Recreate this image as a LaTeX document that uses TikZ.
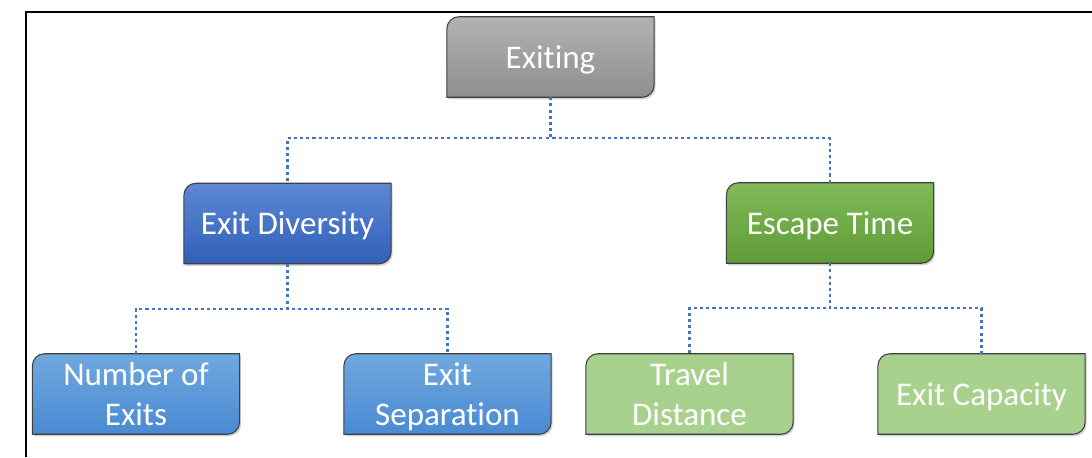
\documentclass[tikz,border=0pt]{standalone}
\usepackage{fontspec}
\setmainfont[Ligatures={NoCommon}]{Carlito}
\usetikzlibrary{backgrounds,shadows}

\definecolor{edgegray}{HTML}{3F3F3F}
\definecolor{linkblue}{HTML}{4472C4}
\definecolor{greyTop}{HTML}{B2B2B2}
\definecolor{greyBot}{HTML}{8E8E8E}
\definecolor{blueTop}{HTML}{5C88D5}
\definecolor{blueBot}{HTML}{3160B8}
\definecolor{skyTop}{HTML}{70A8DF}
\definecolor{skyBot}{HTML}{4A8AD2}
\definecolor{greenTop}{HTML}{80BA5A}
\definecolor{greenBot}{HTML}{5E9C35}
\definecolor{paleGreen}{HTML}{A9D18E}

\tikzset{
  card/.style={minimum width=155pt, minimum height=60pt, inner sep=0pt,
    text=white, align=center, text depth=0pt,
    font=\fontsize{24.8pt}{29.5pt}\selectfont},
  cardedge/.style={draw=edgegray, line width=0.8pt,
    drop shadow={shadow xshift=1.2pt, shadow yshift=-1.5pt, opacity=0.35}},
  greycard/.style={cardedge, top color=greyTop, bottom color=greyBot},
  bluecard/.style={cardedge, top color=blueTop, bottom color=blueBot},
  skycard/.style={cardedge, top color=skyTop, bottom color=skyBot},
  greencard/.style={cardedge, top color=greenTop, bottom color=greenBot},
  palecard/.style={cardedge, fill=paleGreen},
  link/.style={draw=linkblue, line width=1.7pt, dash pattern=on 2.3pt off 2.3pt},
  frame/.style={draw=black, line width=1.3pt}
}

% card outline: rounded top-left and bottom-right corners only
\newcommand{\cardshape}[2]{%
  \path[#2] ([yshift=-9pt]#1.north west) arc (180:90:9pt) -- (#1.north east)
    -- ([yshift=9pt]#1.south east) arc (0:-90:9pt) -- (#1.south west) -- cycle;}

\begin{document}
\begin{tikzpicture}[x=0.75pt, y=0.75pt]
  \useasboundingbox (0,0) rectangle (1092,457);

  % open frame along the top and left edges
  \draw[frame] (1092,445) -- (26,445) -- (26,0);

  % cards
  \node[card] (exiting)   at (550.5,400) {Exiting};
  \node[card] (diversity) at (287.5,233.5) {Exit Diversity};
  \node[card] (escape)    at (830,234) {Escape Time};
  \node[card] (number)    at (136,63) {Number of\\Exits};
  \node[card] (separation) at (447.5,63) {Exit\\Separation};
  \node[card] (travel)    at (689.5,63) {Travel\\Distance};
  \node[card] (capacity)  at (981.5,63) {Exit Capacity};

  \begin{scope}[on background layer]
    \cardshape{exiting}{greycard}
    \cardshape{diversity}{bluecard}
    \cardshape{escape}{greencard}
    \cardshape{number}{skycard}
    \cardshape{separation}{skycard}
    \cardshape{travel}{palecard}
    \cardshape{capacity}{palecard}

    % dotted tree connectors
    \draw[link] (exiting.south) -- ++(0,-41) -| (diversity.north);
    \draw[link] (exiting.south) -- ++(0,-41) -| (escape.north);
    \draw[link] (diversity.south) -- ++(0,-45) -| (number.north);
    \draw[link] (diversity.south) -- ++(0,-45) -| (separation.north);
    \draw[link] (escape.south) -- ++(0,-45) -| (travel.north);
    \draw[link] (escape.south) -- ++(0,-45) -| (capacity.north);
  \end{scope}
\end{tikzpicture}
\end{document}
